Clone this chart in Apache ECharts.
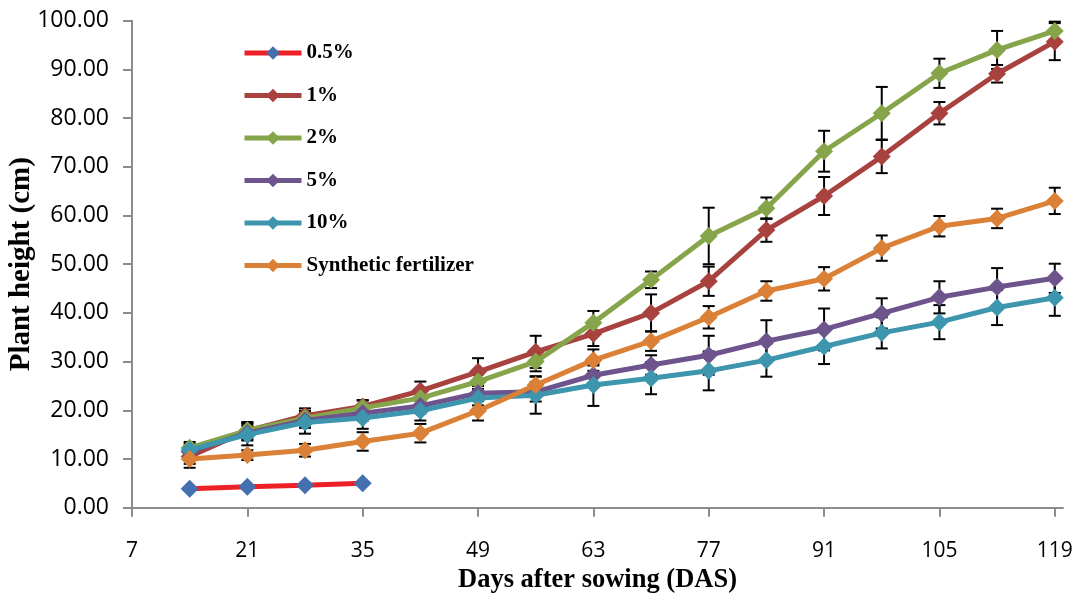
<!DOCTYPE html>
<html>
<head>
<meta charset="utf-8">
<script src="https://cdn.jsdelivr.net/npm/echarts@6/dist/echarts.min.js"></script>
<style>
html,body{margin:0;padding:0;background:#fff;}
#chart{width:1077px;height:595px;}
</style>
</head>
<body>
<div id="chart"></div>
<script>
// ---- data ----
const days = [14, 21, 28, 35, 42, 49, 56, 63, 70, 77, 84, 91, 98, 105, 112, 119];
const xTicks = [7, 21, 35, 49, 63, 77, 91, 105, 119];
const seriesNames = ['0.5%', '1%', '2%', '5%', '10%', 'Synthetic fertilizer'];
const p05 = [3.9, 4.3, 4.6, 5.0];
const p1 = [10.5, 15.8, 18.9, 20.8, 24.0, 27.9, 32.0, 35.7, 40.0, 46.5, 57.0, 64.0, 72.1, 81.0, 89.1, 95.7];
const p2 = [12.3, 15.9, 18.4, 20.5, 22.5, 25.9, 30.0, 38.0, 46.8, 55.8, 61.5, 73.2, 81.0, 89.2, 94.0, 97.9];
const p5 = [11.5, 15.3, 17.9, 19.4, 20.9, 23.5, 23.8, 27.2, 29.3, 31.3, 34.2, 36.6, 39.9, 43.2, 45.3, 47.1];
const p10 = [11.9, 15.0, 17.5, 18.4, 19.9, 22.5, 23.1, 25.2, 26.6, 28.1, 30.3, 33.1, 35.9, 38.1, 41.1, 43.1];
const synth = [10.0, 10.8, 11.8, 13.6, 15.3, 19.9, 25.2, 30.3, 34.2, 39.1, 44.5, 47.0, 53.3, 57.8, 59.4, 63.0];
// error bars (± values)
const e1 = [1.5, 1.8, 1.5, 1.3, 1.9, 2.8, 3.3, 2.5, 3.8, 3.0, 2.4, 3.9, 3.4, 2.3, 1.8, 3.8];
const e2 = [1.2, 1.5, 1.5, 1.5, 1.5, 1.5, 2.0, 2.4, 1.7, 5.8, 2.2, 4.2, 5.4, 3.0, 3.9, 1.9];
const e5 = [1.2, 1.5, 1.5, 1.5, 1.5, 1.5, 2.0, 2.0, 2.0, 4.0, 4.3, 4.3, 3.1, 3.3, 3.9, 3.0];
const e10 = [1.2, 2.2, 2.3, 2.2, 2.0, 1.5, 3.8, 4.3, 3.3, 4.0, 3.4, 3.6, 3.2, 3.5, 3.6, 3.7];
const eS = [1.8, 1.0, 1.3, 1.9, 1.9, 2.0, 1.8, 2.2, 2.0, 2.3, 2.0, 2.4, 2.6, 2.1, 2.0, 2.7];

// ---- styles ----
const lineColors = ['#EE2027', '#A8423F', '#86A44A', '#6E548D', '#3D96AE', '#DA8137'];
const markerColors = ['#4470B0', '#A8423F', '#86A44A', '#6E548D', '#3D96AE', '#DA8137'];
const values = [p05, p1, p2, p5, p10, synth];
const errors = [null, e1, e2, e5, e10, eS];

const chart = echarts.init(document.getElementById('chart'), null, {renderer: 'canvas'});

const series = [];
// error bars first (drawn beneath lines)
errors.forEach((err, i) => {
  if (!err) return;
  const data = values[i].map((v, k) => [days[k], v, err[k]]);
  series.push({
    type: 'custom',
    name: seriesNames[i] + ' err',
    z: 1,
    silent: true,
    data: data,
    encode: {x: 0, y: 1},
    renderItem: function (params, api) {
      const x = api.value(0), y = api.value(1), e = api.value(2);
      const top = api.coord([x, y + e]);
      const bot = api.coord([x, y - e]);
      const hw = 6;
      const st = {stroke: '#000', lineWidth: 2};
      return {
        type: 'group',
        children: [
          {type: 'line', shape: {x1: top[0], y1: top[1], x2: bot[0], y2: bot[1]}, style: st},
          {type: 'line', shape: {x1: top[0] - hw, y1: top[1], x2: top[0] + hw, y2: top[1]}, style: st},
          {type: 'line', shape: {x1: bot[0] - hw, y1: bot[1], x2: bot[0] + hw, y2: bot[1]}, style: st}
        ]
      };
    }
  });
});
values.forEach((vals, i) => {
  series.push({
    type: 'line',
    name: seriesNames[i],
    z: 2 + i,
    data: vals.map((v, k) => [days[k], v]),
    symbol: 'diamond',
    symbolSize: 18,
    lineStyle: {color: lineColors[i], width: 5},
    itemStyle: {color: markerColors[i], borderWidth: 0},
    emphasis: {disabled: true},
    animation: false
  });
});

const option = {
  animation: false,
  backgroundColor: '#fff',
  grid: {left: 132, right: 14, top: 20.7, bottom: 87.3, outerBoundsMode: 'none', containLabel: false},
  legend: {
    data: seriesNames,
    orient: 'vertical',
    left: 237,
    top: 37.5,
    itemWidth: 57,
    itemHeight: 17,
    itemGap: 21.5,
    lineStyle: {width: 5},
    textStyle: {fontFamily: 'Liberation Serif', fontWeight: 'bold', fontSize: 21, color: '#000'}
  },
  xAxis: {
    type: 'value',
    min: 7,
    max: 120,
    name: 'Days after sowing (DAS)',
    nameLocation: 'middle',
    nameGap: 57,
    nameTextStyle: {fontFamily: 'Liberation Serif', fontWeight: 'bold', fontSize: 26.5, color: '#000'},
    axisLine: {show: true, lineStyle: {color: '#8C8C8C', width: 2}},
    axisTick: {show: true, length: 9, customValues: xTicks, lineStyle: {color: '#8C8C8C', width: 2}},
    axisLabel: {customValues: xTicks, margin: 33, fontFamily: 'Open Sans', fontSize: 21, color: '#000'},
    splitLine: {show: false}
  },
  yAxis: {
    type: 'value',
    min: 0,
    max: 100,
    interval: 10,
    name: 'Plant height (cm)',
    nameLocation: 'middle',
    nameGap: 96,
    nameRotate: 90,
    nameMoveOverlap: false,
    nameTextStyle: {fontFamily: 'Liberation Serif', fontWeight: 'bold', fontSize: 29, color: '#000'},
    axisLine: {show: true, lineStyle: {color: '#8C8C8C', width: 2}},
    axisTick: {show: true, length: 9, lineStyle: {color: '#8C8C8C', width: 2}},
    axisLabel: {margin: 23, fontFamily: 'Open Sans', fontSize: 23, color: '#000', formatter: v => v.toFixed(2)},
    splitLine: {show: false}
  },
  series: series
};
chart.setOption(option);
</script>
</body>
</html>
